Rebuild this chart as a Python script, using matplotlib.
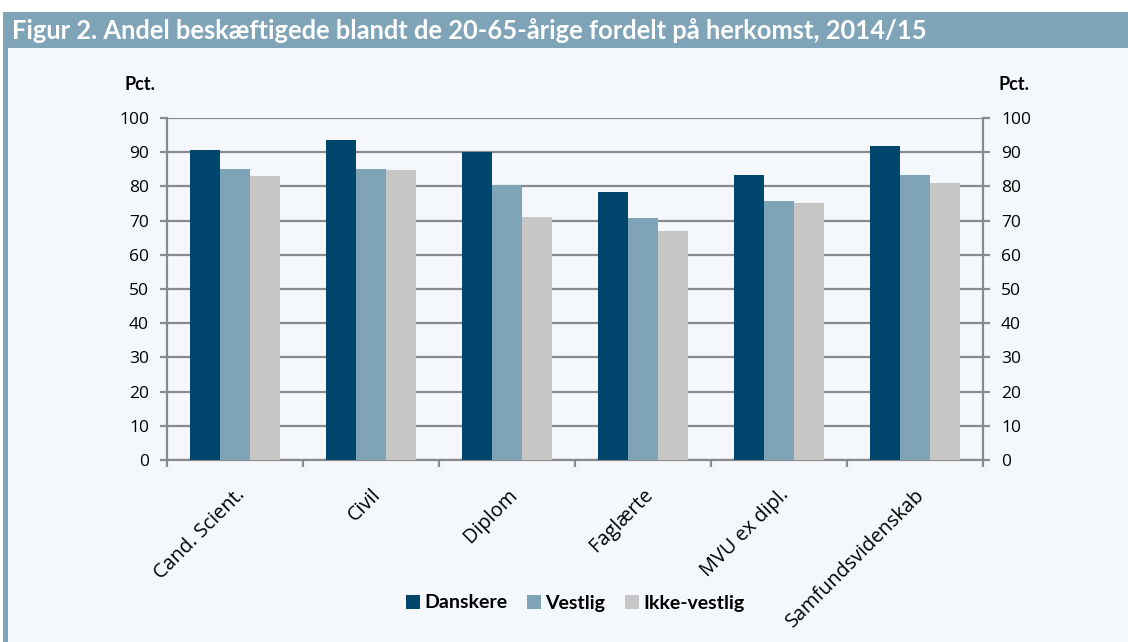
import numpy as np
import matplotlib.pyplot as plt
from matplotlib.patches import Rectangle

# ── data ──────────────────────────────────────────────
categories = ["Cand. Scient.", "Civil", "Diplom", "Faglærte", "MVU ex dipl.", "Samfundsvidenskab"]
danskere = [90.6, 93.7, 90.1, 78.4, 83.4, 91.8]
vestlig = [85.0, 85.1, 80.4, 70.8, 75.6, 83.2]
ikke_vestlig = [83.0, 84.7, 71.0, 66.9, 75.1, 81.0]
series_names = ["Danskere", "Vestlig", "Ikke-vestlig"]
y_ticks = list(range(0, 101, 10))
title = "Figur 2. Andel beskæftigede blandt de 20-65-årige fordelt på herkomst, 2014/15"

col_dk = "#00456B"
col_vest = "#7FA3B7"
col_ikke = "#C6C6C6"
col_band = "#7FA3B7"
col_bg = "#F4F8FC"
col_grid = "#8A8A8A"

plt.rcParams['font.family'] = ['Lato', 'DejaVu Sans']
tick_font = ['Open Sans', 'DejaVu Sans']

W, H = 1128, 642
fig = plt.figure(figsize=(W / 100, H / 100), dpi=100)
fig.patch.set_facecolor("white")

# baggrund, titelbånd og venstre kant
fig.patches.append(Rectangle((8 / W, 0), 1 - 8 / W, 1 - 48 / H, transform=fig.transFigure,
                             facecolor=col_bg, edgecolor="none", zorder=-2))
fig.patches.append(Rectangle((3 / W, 1 - 48 / H), 1 - 3 / W, 36 / H, transform=fig.transFigure,
                             facecolor=col_band, edgecolor="none", zorder=-2))
fig.patches.append(Rectangle((3 / W, 0), 5 / W, 1 - 12 / H, transform=fig.transFigure,
                             facecolor=col_band, edgecolor="none", zorder=-2))
fig.text(12 / W, 1 - 31 / H, title, color="white", fontsize=18.4, fontweight="bold",
         va="center", ha="left")

ax = fig.add_axes([167 / W, 182 / H, 816 / W, 342 / H])
ax.set_facecolor(col_bg)

x = np.arange(len(categories))
w = 0.223
ax.bar(x - w, danskere, w, color=col_dk, label=series_names[0], zorder=3)
ax.bar(x, vestlig, w, color=col_vest, label=series_names[1], zorder=3)
ax.bar(x + w, ikke_vestlig, w, color=col_ikke, label=series_names[2], zorder=3)

ax.set_xlim(-0.5, len(categories) - 0.5)
ax.set_ylim(0, 100)
ax.set_yticks(y_ticks)
ax.yaxis.grid(True, color=col_grid, linewidth=1.6, zorder=1)
ax.set_axisbelow(True)

ax.spines["top"].set_visible(False)
for side in ("left", "right", "bottom"):
    ax.spines[side].set_color(col_grid)
    ax.spines[side].set_linewidth(1.6)

ax.tick_params(axis="y", which="both", left=True, right=True, labelleft=True, labelright=True,
               length=5, width=1.6, color=col_grid, labelsize=12.5, pad=8, direction="out")
for t in ax.yaxis.get_major_ticks():
    t.label1.set_family(tick_font)
    t.label2.set_family(tick_font)

# kategori-grænser som ticks nederst
ax.set_xticks(np.arange(-0.5, len(categories), 1.0), minor=False)
ax.set_xticklabels([])
ax.tick_params(axis="x", which="major", length=5, width=1.6, color=col_grid, direction="out")
ax.set_xticks(x, minor=True)
ax.set_xticklabels(categories, minor=True, rotation=45, ha="right", rotation_mode="anchor",
                   fontsize=14.3, family=tick_font)
ax.tick_params(axis="x", which="minor", length=0, pad=18)

fig.text(140 / W, 1 - 85 / H, "Pct.", fontsize=13, fontweight="bold", ha="center", va="center")
fig.text(1014 / W, 1 - 85 / H, "Pct.", fontsize=13, fontweight="bold", ha="center", va="center")

leg = fig.legend(loc="center", bbox_to_anchor=(575 / W, 1 - 603 / H), ncol=3, frameon=False,
                 handlelength=0.75, handleheight=0.75, handletextpad=0.2, columnspacing=1.0,
                 prop={"weight": "bold", "size": 14})

fig.savefig("out.png", dpi=100, facecolor=fig.get_facecolor())
